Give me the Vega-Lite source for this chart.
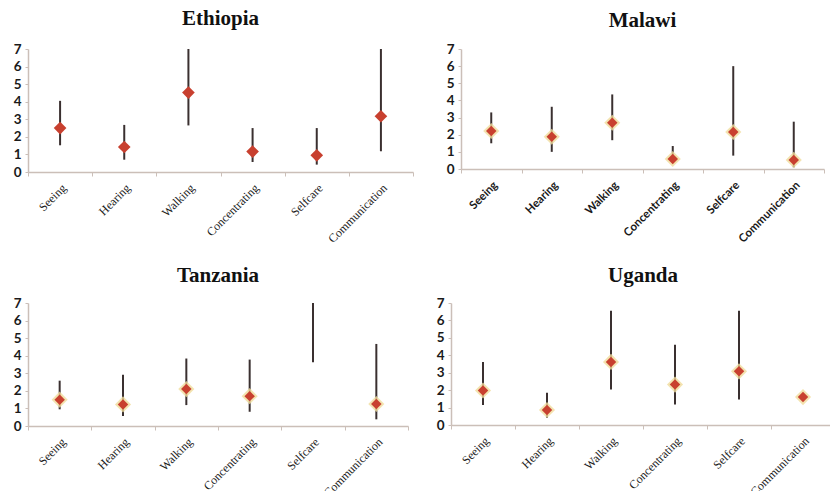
{
  "$schema": "https://vega.github.io/schema/vega-lite/v6.json",
  "padding": {"left": 13, "top": 8, "right": 0, "bottom": 0},
  "background": "white",
  "data": {"values": [
    {"country": "Ethiopia", "item": "Seeing", "value": 2.5, "low": 1.52, "high": 4.05},
    {"country": "Ethiopia", "item": "Hearing", "value": 1.42, "low": 0.7, "high": 2.68},
    {"country": "Ethiopia", "item": "Walking", "value": 4.52, "low": 2.65, "high": 7},
    {"country": "Ethiopia", "item": "Concentrating", "value": 1.16, "low": 0.57, "high": 2.5},
    {"country": "Ethiopia", "item": "Selfcare", "value": 0.95, "low": 0.42, "high": 2.5},
    {"country": "Ethiopia", "item": "Communication", "value": 3.17, "low": 1.18, "high": 7},
    {"country": "Malawi", "item": "Seeing", "value": 2.22, "low": 1.5, "high": 3.3},
    {"country": "Malawi", "item": "Hearing", "value": 1.88, "low": 1.0, "high": 3.63},
    {"country": "Malawi", "item": "Walking", "value": 2.7, "low": 1.68, "high": 4.35},
    {"country": "Malawi", "item": "Concentrating", "value": 0.58, "low": 0.35, "high": 1.34},
    {"country": "Malawi", "item": "Selfcare", "value": 2.16, "low": 0.78, "high": 6.0},
    {"country": "Malawi", "item": "Communication", "value": 0.53, "low": 0.1, "high": 2.76},
    {"country": "Tanzania", "item": "Seeing", "value": 1.5, "low": 0.95, "high": 2.58},
    {"country": "Tanzania", "item": "Hearing", "value": 1.23, "low": 0.57, "high": 2.92},
    {"country": "Tanzania", "item": "Walking", "value": 2.1, "low": 1.19, "high": 3.84},
    {"country": "Tanzania", "item": "Concentrating", "value": 1.7, "low": 0.81, "high": 3.78},
    {"country": "Tanzania", "item": "Selfcare", "value": null, "low": 3.63, "high": 7},
    {"country": "Tanzania", "item": "Communication", "value": 1.25, "low": 0.38, "high": 4.67},
    {"country": "Uganda", "item": "Seeing", "value": 1.98, "low": 1.15, "high": 3.62},
    {"country": "Uganda", "item": "Hearing", "value": 0.86, "low": 0.42, "high": 1.85},
    {"country": "Uganda", "item": "Walking", "value": 3.62, "low": 2.04, "high": 6.56},
    {"country": "Uganda", "item": "Concentrating", "value": 2.32, "low": 1.18, "high": 4.6},
    {"country": "Uganda", "item": "Selfcare", "value": 3.08, "low": 1.47, "high": 6.56},
    {"country": "Uganda", "item": "Communication", "value": 1.6, "low": null, "high": null}
  ]},
  "config": {
    "view": {"stroke": null},
    "axis": {"grid": false, "domainColor": "#cbbfb8", "tickColor": "#cbbfb8", "title": null, "labelColor": "#1a1a1a", "labelOverlap": false},
    "axisY": {"labelFont": "Lato", "labelFontWeight": "bold", "labelFontSize": 13.5, "tickSize": 3, "labelPadding": 4, "domainWidth": 1.5, "values": [0,1,2,3,4,5,6,7]},
    "axisX": {"labelAngle": -45, "tickSize": 4, "labelPadding": 6, "domainWidth": 1.5, "tickBand": "extent"},
    "title": {"font": "Liberation Serif", "fontSize": 21, "fontWeight": "bold", "color": "#111111", "anchor": "middle", "offset": 13}
  },
  "spacing": 20,
  "vconcat": [
    {
      "spacing": 32,
      "hconcat": [
        {
          "title": "Ethiopia",
          "width": 385, "height": 123,
          "transform": [{"filter": "datum.country === 'Ethiopia'"}],
          "encoding": {
            "x": {"field": "item", "type": "nominal", "sort": ["Seeing", "Hearing", "Walking", "Concentrating", "Selfcare", "Communication"],
                  "scale": {"type": "band", "paddingInner": 0, "paddingOuter": 0},
                  "axis": {"labelFont": "Liberation Serif", "labelFontSize": 12}}
          },
          "layer": [
            {"mark": {"type": "rule", "color": "#3a3030", "strokeWidth": 2},
             "encoding": {"y": {"field": "low", "type": "quantitative", "scale": {"domain": [0, 7]}, "axis": {"values": [0,1,2,3,4,5,6,7]}}, "y2": {"field": "high"}}},
            {"mark": {"type": "point", "shape": "diamond", "filled": true, "color": "#c8402f", "opacity": 1, "size": 160},
             "encoding": {"y": {"field": "value", "type": "quantitative", "axis": {"values": [0,1,2,3,4,5,6,7]}}}}
          ]
        },
        {
          "title": {"text": "Malawi", "offset": 11},
          "width": 363, "height": 120,
          "transform": [{"filter": "datum.country === 'Malawi'"}],
          "encoding": {
            "x": {"field": "item", "type": "nominal", "sort": ["Seeing", "Hearing", "Walking", "Concentrating", "Selfcare", "Communication"],
                  "scale": {"type": "band", "paddingInner": 0, "paddingOuter": 0},
                  "axis": {"labelFont": "Lato", "labelFontWeight": "bold", "labelFontSize": 11.5}}
          },
          "layer": [
            {"mark": {"type": "rule", "color": "#3a3030", "strokeWidth": 2},
             "encoding": {"y": {"field": "low", "type": "quantitative", "scale": {"domain": [0, 7]}, "axis": {"values": [0,1,2,3,4,5,6,7]}}, "y2": {"field": "high"}}},
            {"mark": {"type": "point", "shape": "diamond", "filled": true, "color": "#f0dc9c", "opacity": 0.8, "size": 260},
             "encoding": {"y": {"field": "value", "type": "quantitative", "axis": {"values": [0,1,2,3,4,5,6,7]}}}},
            {"mark": {"type": "point", "shape": "diamond", "filled": true, "color": "#c8402f", "opacity": 1, "size": 110},
             "encoding": {"y": {"field": "value", "type": "quantitative", "axis": {"values": [0,1,2,3,4,5,6,7]}}}}
          ]
        }
      ]
    },
    {
      "spacing": 27,
      "hconcat": [
        {
          "title": {"text": "Tanzania", "offset": 10},
          "width": 380, "height": 123,
          "transform": [{"filter": "datum.country === 'Tanzania'"}],
          "encoding": {
            "x": {"field": "item", "type": "nominal", "sort": ["Seeing", "Hearing", "Walking", "Concentrating", "Selfcare", "Communication"],
                  "scale": {"type": "band", "paddingInner": 0, "paddingOuter": 0},
                  "axis": {"labelFont": "Liberation Serif", "labelFontSize": 12}}
          },
          "layer": [
            {"mark": {"type": "rule", "color": "#3a3030", "strokeWidth": 2},
             "encoding": {"y": {"field": "low", "type": "quantitative", "scale": {"domain": [0, 7]}, "axis": {"values": [0,1,2,3,4,5,6,7]}}, "y2": {"field": "high"}}},
            {"mark": {"type": "point", "shape": "diamond", "filled": true, "color": "#f0dc9c", "opacity": 0.8, "size": 260},
             "encoding": {"y": {"field": "value", "type": "quantitative", "axis": {"values": [0,1,2,3,4,5,6,7]}}}},
            {"mark": {"type": "point", "shape": "diamond", "filled": true, "color": "#c8402f", "opacity": 1, "size": 110},
             "encoding": {"y": {"field": "value", "type": "quantitative", "axis": {"values": [0,1,2,3,4,5,6,7]}}}}
          ]
        },
        {
          "title": {"text": "Uganda", "offset": 10},
          "width": 384, "height": 122,
          "transform": [{"filter": "datum.country === 'Uganda'"}],
          "encoding": {
            "x": {"field": "item", "type": "nominal", "sort": ["Seeing", "Hearing", "Walking", "Concentrating", "Selfcare", "Communication"],
                  "scale": {"type": "band", "paddingInner": 0, "paddingOuter": 0},
                  "axis": {"labelFont": "Liberation Serif", "labelFontSize": 12}}
          },
          "layer": [
            {"mark": {"type": "rule", "color": "#3a3030", "strokeWidth": 2},
             "encoding": {"y": {"field": "low", "type": "quantitative", "scale": {"domain": [0, 7]}, "axis": {"values": [0,1,2,3,4,5,6,7]}}, "y2": {"field": "high"}}},
            {"mark": {"type": "point", "shape": "diamond", "filled": true, "color": "#f0dc9c", "opacity": 0.8, "size": 260},
             "encoding": {"y": {"field": "value", "type": "quantitative", "axis": {"values": [0,1,2,3,4,5,6,7]}}}},
            {"mark": {"type": "point", "shape": "diamond", "filled": true, "color": "#c8402f", "opacity": 1, "size": 110},
             "encoding": {"y": {"field": "value", "type": "quantitative", "axis": {"values": [0,1,2,3,4,5,6,7]}}}}
          ]
        }
      ]
    }
  ]
}
